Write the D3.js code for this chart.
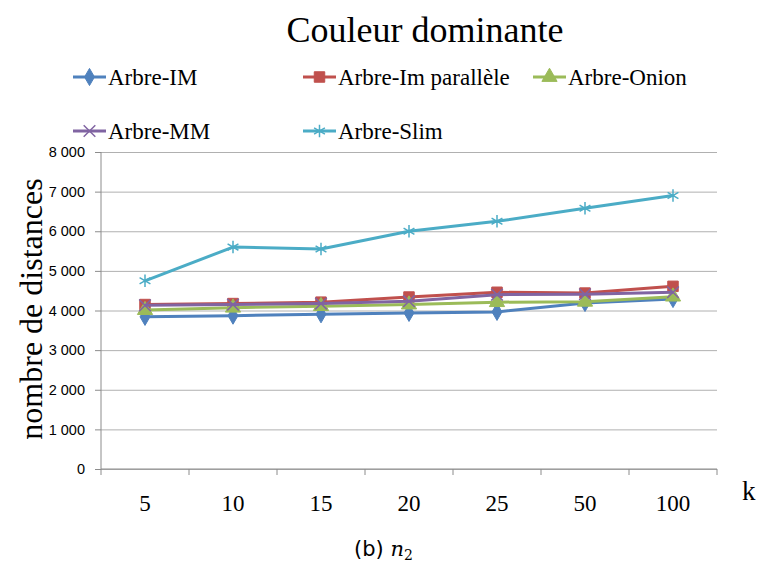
<!DOCTYPE html>
<html>
<head>
<meta charset="utf-8">
<script src="https://cdn.jsdelivr.net/npm/d3@7/dist/d3.min.js"></script>
<style>
  html, body { margin: 0; padding: 0; background: #fff; }
  svg { display: block; }
</style>
</head>
<body>
<svg id="chart" width="760" height="575"></svg>
<script>
// Number of distances computed per k, for each tree structure
const categories = ["5", "10", "15", "20", "25", "50", "100"];
const seriesNames = ["Arbre-IM", "Arbre-Im parallèle", "Arbre-Onion", "Arbre-MM", "Arbre-Slim"];
const arbreIM        = [3840, 3870, 3905, 3940, 3965, 4190, 4290];
const arbreImPar     = [4150, 4175, 4210, 4340, 4460, 4440, 4610];
const arbreOnion     = [4010, 4070, 4110, 4150, 4210, 4220, 4350];
const arbreMM        = [4130, 4150, 4175, 4235, 4400, 4410, 4460];
const arbreSlim      = [4750, 5600, 5550, 6000, 6250, 6580, 6900];
const yTicks = [0, 1000, 2000, 3000, 4000, 5000, 6000, 7000, 8000];

const series = [
  { name: seriesNames[0], values: arbreIM,    color: "#4F81BD", symbol: d3.symbolDiamond,  size: 85,  fill: true },
  { name: seriesNames[1], values: arbreImPar, color: "#C0504D", symbol: d3.symbolSquare,   size: 110, fill: true },
  { name: seriesNames[2], values: arbreOnion, color: "#9BBB59", symbol: d3.symbolTriangle, size: 100, fill: true },
  { name: seriesNames[3], values: arbreMM,    color: "#8064A2", symbol: d3.symbolX,        size: 90,  fill: false },
  { name: seriesNames[4], values: arbreSlim,  color: "#4BACC6", symbol: d3.symbolAsterisk, size: 110, fill: false }
];

const serif = "'Liberation Serif', 'Times New Roman', serif";

const svg = d3.select("#chart");
const plot = { left: 101, right: 717, top: 152, bottom: 469 };

const x = d3.scaleBand().domain(categories).range([plot.left, plot.right]).padding(0);
const y = d3.scaleLinear().domain([0, 8000]).range([plot.bottom, plot.top]);

const frLocale = d3.formatLocale({ decimal: ",", thousands: "\u00a0", grouping: [3], currency: ["", " €"] });
const fmt = frLocale.format(",");

// Title
svg.append("text")
  .attr("x", 425).attr("y", 42)
  .attr("text-anchor", "middle")
  .style("font-family", serif)
  .attr("font-size", 36)
  .attr("fill", "#000")
  .text("Couleur dominante");

// Horizontal gridlines
svg.append("g")
  .attr("transform", `translate(${plot.left},0)`)
  .call(d3.axisLeft(y).tickValues(yTicks).tickSize(-(plot.right - plot.left)).tickFormat(""))
  .call(g => g.select(".domain").remove())
  .call(g => g.selectAll(".tick line").attr("stroke", "#B0B0B0").attr("stroke-width", 1));

// Y axis with labels
svg.append("g")
  .attr("transform", `translate(${plot.left},0)`)
  .call(d3.axisLeft(y).tickValues(yTicks).tickSize(6).tickPadding(10).tickFormat(fmt))
  .call(g => g.select(".domain").attr("stroke", "#8C8C8C").attr("d", `M0,${plot.top}V${plot.bottom}`))
  .call(g => g.selectAll(".tick line").attr("stroke", "#8C8C8C"))
  .call(g => g.selectAll(".tick text")
    .style("font-family", "'Liberation Sans', Arial, sans-serif")
    .attr("font-size", 14.5)
    .attr("fill", "#000"));

// X axis: labels at category centres
svg.append("g")
  .attr("transform", `translate(0,${plot.bottom})`)
  .call(d3.axisBottom(x).tickSize(0).tickPadding(26))
  .call(g => g.select(".domain").attr("stroke", "#8C8C8C").attr("d", `M${plot.left},0H${plot.right}`))
  .call(g => g.selectAll(".tick text")
    .style("font-family", serif)
    .attr("font-size", 23)
    .attr("fill", "#000"));

// X axis tick marks between categories
const boundaries = categories.map(c => x(c)).concat([x(categories[categories.length - 1]) + x.bandwidth()]);
svg.append("g")
  .selectAll("line")
  .data(boundaries)
  .join("line")
  .attr("x1", d => d).attr("x2", d => d)
  .attr("y1", plot.bottom).attr("y2", plot.bottom + 6)
  .attr("stroke", "#8C8C8C");

// Axis titles
svg.append("text")
  .attr("transform", "translate(42,309) rotate(-90)")
  .attr("text-anchor", "middle")
  .style("font-family", serif)
  .attr("font-size", 32)
  .attr("fill", "#000")
  .text("nombre de distances");

svg.append("text")
  .attr("x", 742).attr("y", 500)
  .style("font-family", serif)
  .attr("font-size", 27)
  .attr("fill", "#000")
  .text("k");

// Series lines and markers
const line = d3.line()
  .x((d, i) => x(categories[i]) + x.bandwidth() / 2)
  .y(d => y(d));

function drawMarker(sel, s) {
  sel.attr("d", d3.symbol().type(s.symbol).size(s.size))
    .attr("fill", s.fill ? s.color : "none")
    .attr("stroke", s.color)
    .attr("stroke-width", s.fill ? 1 : 1.5);
}

series.forEach(s => {
  const g = svg.append("g");
  g.append("path")
    .datum(s.values)
    .attr("d", line)
    .attr("fill", "none")
    .attr("stroke", s.color)
    .attr("stroke-width", 3)
    .attr("stroke-linejoin", "round");
  g.selectAll("path.marker")
    .data(s.values)
    .join("path")
    .attr("class", "marker")
    .attr("transform", (d, i) => `translate(${x(categories[i]) + x.bandwidth() / 2},${y(d)})`)
    .call(drawMarker, s);
});

// Legend
const legendPos = [
  { x: 73, y: 77 }, { x: 303, y: 77 }, { x: 533, y: 77 },
  { x: 73, y: 131 }, { x: 303, y: 131 }
];
series.forEach((s, i) => {
  const p = legendPos[i];
  const g = svg.append("g").attr("transform", `translate(${p.x},${p.y})`);
  g.append("line")
    .attr("x1", 0).attr("x2", 33).attr("y1", 0).attr("y2", 0)
    .attr("stroke", s.color).attr("stroke-width", 3);
  g.append("path")
    .attr("transform", "translate(16.5,0)")
    .call(drawMarker, s);
  g.append("text")
    .attr("x", 35).attr("y", 7.5)
    .style("font-family", serif)
    .attr("font-size", 23)
    .attr("fill", "#000")
    .text(s.name);
});

// Caption
const cap = svg.append("text")
  .attr("x", 354).attr("y", 556)
  .attr("fill", "#000");
cap.append("tspan")
  .style("font-family", "'DejaVu Sans', sans-serif")
  .attr("font-size", 21)
  .text("(b) ");
cap.append("tspan")
  .style("font-family", "'DejaVu Serif', serif")
  .attr("font-style", "italic")
  .attr("font-size", 21)
  .text("n");
cap.append("tspan")
  .style("font-family", "'DejaVu Serif', serif")
  .attr("font-size", 14)
  .attr("dy", 4)
  .text("2");
</script>
</body>
</html>
